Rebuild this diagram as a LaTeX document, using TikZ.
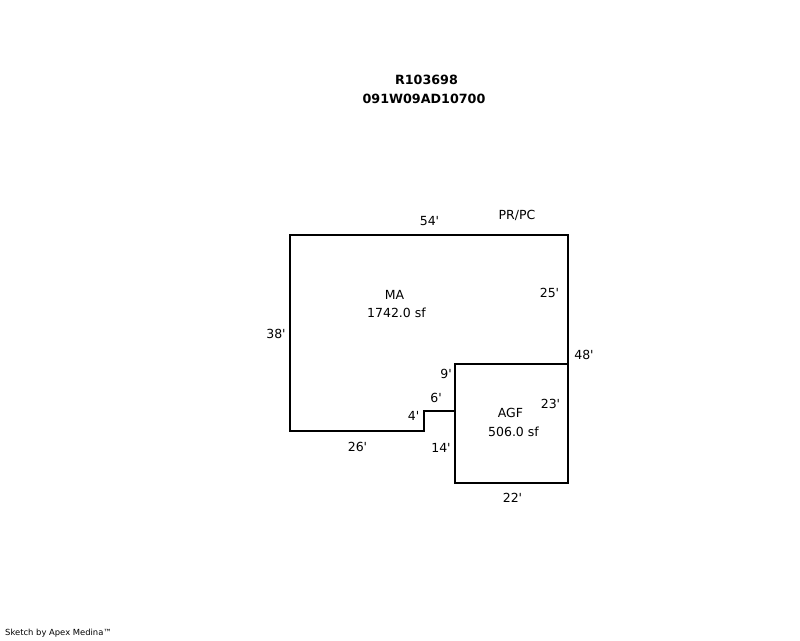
\documentclass[tikz,border=0pt]{standalone}
\usepackage{fontspec}
\newfontfamily\plainfont{DejaVu Sans}
\tikzset{
  lbl/.style={inner sep=0pt,font=\plainfont\fontsize{12.5}{14}\selectfont,text=black},
  ttl/.style={inner sep=0pt,font=\plainfont\fontsize{12.7}{14}\selectfont\bfseries},
  wall/.style={draw=black,line width=2.2pt,line join=miter}
}
\begin{document}
\begin{tikzpicture}[x=1pt,y=-1pt]
\useasboundingbox[fill=white] (0,0) rectangle (800,640);
\draw[wall] (568,364) -- (455,364) -- (455,483) -- (568,483) -- (568,235) -- (290,235) -- (290,431) -- (424,431) -- (424,411) -- (455,411);
\node[ttl] (t1) at (426.5,79.5) {R103698};
\node[ttl] (t2) at (424,98.5) {091W09AD10700};
\node[lbl] (a) at (429.5,221.5) {54'};
\node[lbl] (b) at (517,215.5) {PR/PC};
\node[lbl] (c) at (549.5,293) {25'};
\node[lbl] (d) at (394.5,294.5) {MA};
\node[lbl] (e) at (396.5,312.5) {1742.0 sf};
\node[lbl] (f) at (276,333.5) {38'};
\node[lbl] (g) at (584,354.5) {48'};
\node[lbl] (h) at (446,373.5) {9'};
\node[lbl] (i) at (436,397.5) {6'};
\node[lbl] (j) at (550.5,404) {23'};
\node[lbl] (k) at (510.5,413) {AGF};
\node[lbl] (l) at (513.5,431.5) {506.0 sf};
\node[lbl] (m) at (413.5,415.5) {4'};
\node[lbl] (n) at (441,447.5) {14'};
\node[lbl] (o) at (357.5,446.5) {26'};
\node[lbl] (p) at (512.5,497.5) {22'};
\node[inner sep=0pt,font=\plainfont\fontsize{8.4}{10}\selectfont,anchor=west] (q) at (5,633) {Sketch by Apex Medina™};
\end{tikzpicture}
\end{document}
